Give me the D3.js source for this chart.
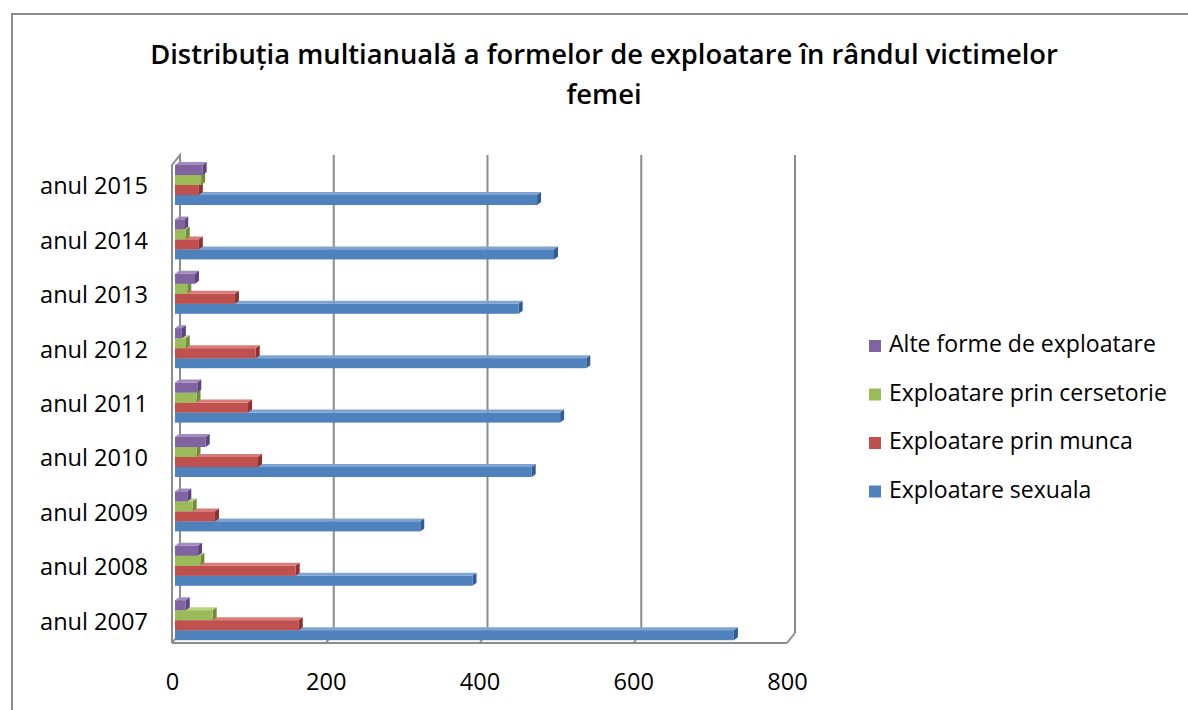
<!DOCTYPE html>
<html>
<head>
<meta charset="utf-8">
<script src="https://cdn.jsdelivr.net/npm/d3@7"></script>
<style>
  body { margin: 0; background: #fff; }
  svg { display: block; }
</style>
</head>
<body>
<script>
// data
let years = ["anul 2007", "anul 2008", "anul 2009", "anul 2010", "anul 2011", "anul 2012", "anul 2013", "anul 2014", "anul 2015"];
let seriesNames = ["Alte forme de exploatare", "Exploatare prin cersetorie", "Exploatare prin munca", "Exploatare sexuala"];
let sexuala = [727, 387, 319, 464, 501, 535, 447, 493, 471];
let munca = [161, 157, 52, 108, 95, 105, 78, 31, 31];
let cersetorie = [49, 33, 23, 28, 28, 14, 16, 14, 34];
let alte = [14, 30, 16, 40, 29, 9, 26, 12, 36];
let xTicks = [0, 200, 400, 600, 800];
let titleLines = ["Distribuția multianuală a formelor de exploatare în rândul victimelor", "femei"];

let canvasW = 1188;
let canvasH = 710;
let font = "'Open Sans', Lato, sans-serif";

// 3D depth offset of the back wall
let dx = 8, dy = -10;
let floorY = 643;
let wallTop = 155;

let colors = {
  "Alte forme de exploatare": { front: "#8064a2", top: "#a38bc0", side: "#5c4580" },
  "Exploatare prin cersetorie": { front: "#9bbb59", top: "#b9d37f", side: "#718c38" },
  "Exploatare prin munca": { front: "#c0504d", top: "#d87c79", side: "#8e3230" },
  "Exploatare sexuala": { front: "#4f81bd", top: "#7fa4d4", side: "#315c91" }
};
let values = {
  "Alte forme de exploatare": alte,
  "Exploatare prin cersetorie": cersetorie,
  "Exploatare prin munca": munca,
  "Exploatare sexuala": sexuala
};

// scale font so that the first text of a selection has the wanted width
function fitFont(sel, base, target) {
  sel.attr("font-size", base + "px");
  let w = sel.node().getComputedTextLength();
  sel.attr("font-size", (base * target / w).toFixed(2) + "px");
}

let svg = d3.select("body")
  .append("svg")
    .attr("width", canvasW)
    .attr("height", canvasH);

// outer chart border
svg.append("rect")
  .attr("x", 12).attr("y", 14)
  .attr("width", 1200).attr("height", 720)
  .attr("fill", "none")
  .attr("stroke", "#8c8c8c")
  .attr("stroke-width", 2);

// title
let title = svg.selectAll(".title")
  .data(titleLines)
  .enter()
  .append("text")
    .attr("class", "title")
    .attr("x", 604)
    .attr("y", (d, i) => 57 + i * 40)
    .attr("dominant-baseline", "middle")
    .attr("text-anchor", "middle")
    .attr("font-family", font)
    .attr("font-weight", "600")
    .attr("fill", "#000")
    .text(d => d);
fitFont(title, 22, 908);

let xFront = d3.scaleLinear().domain([0, 800]).range([172, 787]);
let xBar = d3.scaleLinear().domain([0, 800]).range([175, 790]);

let yScale = d3.scaleBand()
  .domain(years.slice().reverse())
  .range([157.8, 647.4])
  .paddingInner(0.265)
  .paddingOuter(0.1325);

let ySub = d3.scaleBand()
  .domain(seriesNames)
  .range([0, yScale.bandwidth()]);

// side wall (left)
svg.append("path")
  .attr("d", `M${xFront(0)},${floorY} L${xFront(0)},${wallTop - dy} L${xFront(0) + dx},${wallTop} L${xFront(0) + dx},${floorY + dy}`)
  .attr("fill", "none")
  .attr("stroke", "#8c8c8c")
  .attr("stroke-width", 2);

// back wall gridlines + floor lines
let grid = svg.append("g");
grid.selectAll("line.v")
  .data(xTicks.slice(1))
  .enter()
  .append("line")
    .attr("x1", d => xFront(d) + dx).attr("x2", d => xFront(d) + dx)
    .attr("y1", wallTop).attr("y2", floorY + dy)
    .attr("stroke", "#8c8c8c")
    .attr("stroke-width", 2);
grid.selectAll("line.f")
  .data(xTicks)
  .enter()
  .append("line")
    .attr("x1", d => xFront(d) + dx).attr("x2", d => xFront(d))
    .attr("y1", floorY + dy).attr("y2", floorY)
    .attr("stroke", "#8c8c8c")
    .attr("stroke-width", 2);
grid.append("line")
  .attr("x1", xFront(0)).attr("x2", xFront(800))
  .attr("y1", floorY).attr("y2", floorY)
  .attr("stroke", "#8c8c8c")
  .attr("stroke-width", 2);

// bars, drawn bottom series first so the one above covers its top face
let depthX = 4, depthY = 3;
let drawOrder = seriesNames.slice().reverse();
drawOrder.forEach(s => {
  let c = colors[s];
  let g = svg.append("g");
  years.forEach((yr, i) => {
    let v = values[s][i];
    let x0 = xBar(0), x1 = xBar(v);
    let y0 = yScale(yr) + ySub(s);
    let h = ySub.bandwidth();
    // top face
    g.append("path")
      .attr("d", `M${x0},${y0} L${x0 + depthX},${y0 - depthY} L${x1 + depthX},${y0 - depthY} L${x1},${y0} Z`)
      .attr("fill", c.top);
    // side face
    g.append("path")
      .attr("d", `M${x1},${y0} L${x1 + depthX},${y0 - depthY} L${x1 + depthX},${y0 + h - depthY} L${x1},${y0 + h} Z`)
      .attr("fill", c.side);
    // front face
    g.append("rect")
      .attr("x", x0).attr("y", y0)
      .attr("width", x1 - x0).attr("height", h)
      .attr("fill", c.front);
  });
});

// category labels
let ylab = svg.selectAll(".ylab")
  .data(years)
  .enter()
  .append("text")
    .attr("class", "ylab")
    .attr("x", 148)
    .attr("y", d => yScale(d) + yScale.bandwidth() / 2 + 3)
    .attr("dominant-baseline", "middle")
    .attr("text-anchor", "end")
    .attr("font-family", font)
    .attr("fill", "#000")
    .text(d => d);
fitFont(ylab, 20, 108);

// x axis labels
const xAxis = svg.append("g")
  .attr("transform", "translate(0,673)");
d3.axisBottom(xFront).tickValues(xTicks).tickSize(0).tickPadding(0)(xAxis);
xAxis.select(".domain").remove();
xAxis.selectAll("text")
  .attr("font-family", font)
  .attr("font-size", ylab.attr("font-size"))
  .attr("fill", "#000");

// legend
let legend = svg.append("g");
let leg = legend.selectAll("g")
  .data(seriesNames)
  .enter()
  .append("g")
    .attr("transform", (d, i) => `translate(869,${346 + i * 48.5})`);
leg.append("rect")
  .attr("x", 0).attr("y", -6)
  .attr("width", 12).attr("height", 12)
  .attr("fill", d => colors[d].front);
let legText = leg.append("text")
  .attr("x", 20)
  .attr("y", 0)
  .attr("dominant-baseline", "middle")
  .attr("font-family", font)
  .attr("fill", "#000")
  .text(d => d);
fitFont(d3.select(legText.nodes()[1]), 20, 278);
legText.attr("font-size", d3.select(legText.nodes()[1]).attr("font-size"));
</script>
</body>
</html>
